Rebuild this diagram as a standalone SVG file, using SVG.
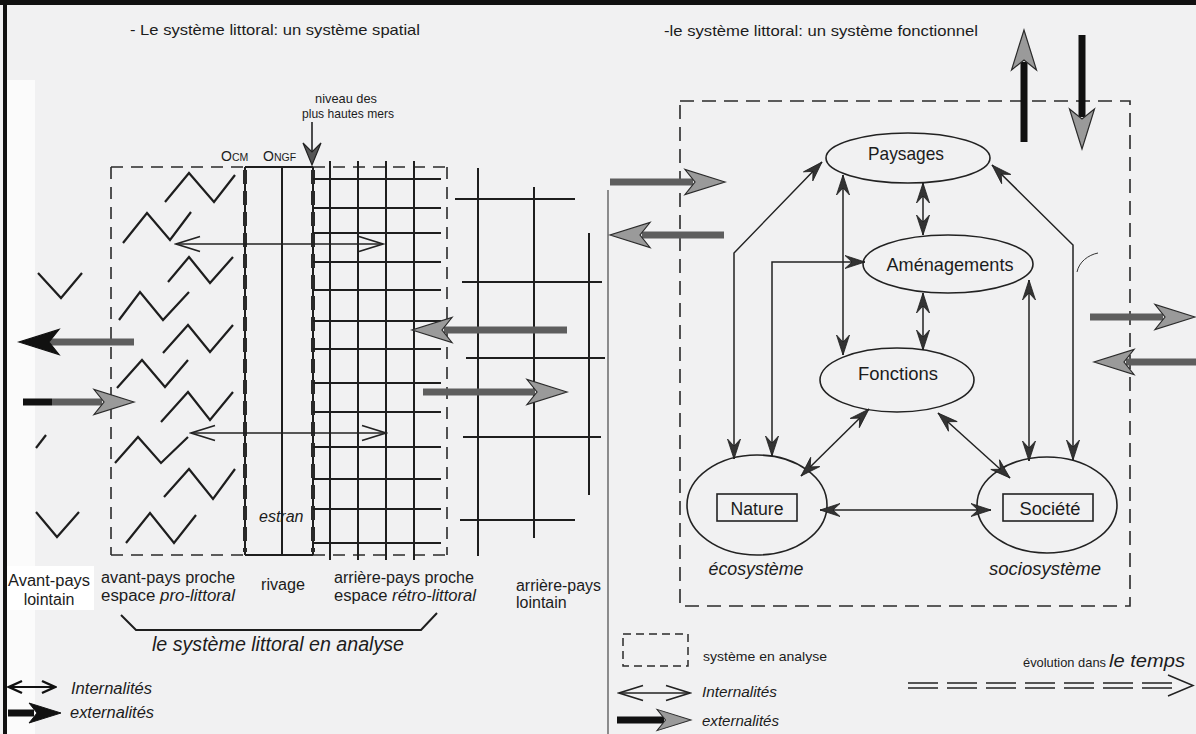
<svg xmlns="http://www.w3.org/2000/svg" width="1196" height="734" viewBox="0 0 1196 734">
<defs>
<style>
.t{font-family:"Liberation Sans",Arial,Helvetica,sans-serif;fill:#1c1c1c}
.it{font-style:italic}
.ln{stroke:#1e1e1e;stroke-width:2;fill:none}
.thin{stroke:#222;stroke-width:1.4;fill:none}
.dash{stroke:#2a2a2a;stroke-width:1.6;fill:none;stroke-dasharray:12 8}
.thickdash{stroke:#2a2a2a;stroke-width:4;fill:none;stroke-dasharray:14 7}
.zz{stroke:#1e1e1e;stroke-width:2.2;fill:none}
.ell{stroke:#222;stroke-width:1.6;fill:none}
.shaft{stroke:#5e5e5e;stroke-width:7}
.shaftk{stroke:#111;stroke-width:7}
.int{stroke:#222;stroke-width:1.4;fill:none;marker-start:url(#chev);marker-end:url(#chev)}
.intk{stroke:#111;stroke-width:2;fill:none;marker-start:url(#chevk);marker-end:url(#chevk)}
.rel{stroke:#222;stroke-width:1.5;fill:none;marker-start:url(#dart);marker-end:url(#dart)}
</style>
<marker id="chev" viewBox="-26 -10 28 20" refX="0" refY="0" markerWidth="28" markerHeight="20" markerUnits="userSpaceOnUse" orient="auto-start-reverse">
<path d="M-24,-7.5 L0,0 L-24,7.5" fill="none" stroke="#222" stroke-width="1.7"/>
</marker>
<marker id="chevk" viewBox="-16 -8 18 16" refX="0" refY="0" markerWidth="18" markerHeight="16" markerUnits="userSpaceOnUse" orient="auto-start-reverse">
<path d="M-13,-6 L0,0 L-13,6" fill="none" stroke="#111" stroke-width="2.4"/>
</marker>
<marker id="dart" viewBox="-22 -8 24 16" refX="0" refY="0" markerWidth="24" markerHeight="16" markerUnits="userSpaceOnUse" orient="auto-start-reverse">
<path d="M0,0 L-20,-6.5 L-13,0 L-20,6.5 Z" fill="#333" stroke="#1e1e1e" stroke-width="0.8"/>
</marker>
<path id="xh" d="M0,0 L-40,-12.5 L-30,0 L-40,12.5 Z" fill="#9a9a9a" stroke="#2a2a2a" stroke-width="1.2"/>
<path id="xhk" d="M0,0 L-40,-12.5 L-30,0 L-40,12.5 Z" fill="#111" stroke="#111" stroke-width="1.2"/>
</defs>

<!-- background -->
<rect x="0" y="0" width="1196" height="734" fill="#f1f1f2"/>
<rect x="6" y="80" width="29" height="654" fill="#fbfbfb"/>
<rect x="6" y="566" width="88" height="44" fill="#ffffff"/>
<rect x="0" y="0" width="1196" height="5" fill="#111"/>
<rect x="3" y="0" width="4" height="734" fill="#111"/>
<line x1="608" y1="190" x2="608" y2="734" stroke="#555" stroke-width="1.3"/>

<!-- titles -->
<text class="t" x="130" y="35" font-size="15" textLength="290" lengthAdjust="spacingAndGlyphs">- Le système littoral: un système spatial</text>
<text class="t" x="664" y="36" font-size="15" textLength="314" lengthAdjust="spacingAndGlyphs">-le système littoral: un système fonctionnel</text>

<!-- LEFT PANEL: spatial system -->
<g id="spatial-system">
  <!-- analysis frame -->
  <path class="dash" d="M111,167 H245 M313,167 H447 M111,167 V555 M447,167 V555 M111,555 H245 M313,555 H447"/>
  <path class="ln" d="M245,167 H313 M245,555 H313"/>
  <!-- OCM / ONGF lines -->
  <path class="ln" d="M245,167 V555 M313,167 V555" stroke-width="1.4"/>
  <path class="thickdash" d="M245,170 V552 M313,170 V552"/>
  <line class="ln" x1="282" y1="167" x2="282" y2="555"/>
  <!-- grid of rétro-littoral -->
  <path class="ln" d="M330,161 V560 M358,161 V560 M386,161 V560 M414,161 V560"/>
  <path class="ln" d="M313,179 H441 M313,208 H441 M313,233 H441 M313,262 H441 M313,290 H441 M313,321 H441 M313,349 H441 M313,383 H441 M313,412 H441 M313,447 H441 M313,479 H441 M313,509 H441 M313,543 H441"/>
  <!-- arrière-pays lointain -->
  <path class="ln" d="M478,168 V556 M534,187 V538 M589,233 V495"/>
  <path class="ln" d="M455,199 H575 M462,282 H602 M466,358 H605 M463,437 H601 M460,520 H575"/>
  <!-- sea zigzags -->
  <polyline class="zz" points="165,202 189,173 214,202 235,175"/>
  <polyline class="zz" points="123,243 147,213 170,240 191,212"/>
  <polyline class="zz" points="168,282 189,257 210,283 233,257"/>
  <polyline class="zz" points="119,320 140,292 163,320 189,292"/>
  <polyline class="zz" points="163,353 188,325 210,352 233,325"/>
  <polyline class="zz" points="117,388 142,360 165,387 188,360"/>
  <polyline class="zz" points="161,422 188,392 210,420 233,392"/>
  <polyline class="zz" points="115,463 138,437 161,463 188,437"/>
  <polyline class="zz" points="164,497 189,469 213,499 235,469"/>
  <polyline class="zz" points="126,543 150,513 174,543 196,515"/>
  <polyline class="zz" points="38,273 61,298 82,273"/>
  <line class="zz" x1="36" y1="448" x2="46" y2="435"/>
  <polyline class="zz" points="36,512 57,537 79,512"/>
  <!-- labels -->
  <text class="t" x="346" y="103" font-size="13" text-anchor="middle" textLength="62" lengthAdjust="spacingAndGlyphs">niveau  des</text>
  <text class="t" x="348" y="118" font-size="13.5" text-anchor="middle" textLength="92" lengthAdjust="spacingAndGlyphs">plus hautes mers</text>
  <line x1="312" y1="122" x2="312" y2="160" stroke="#222" stroke-width="1.6"/>
  <path d="M303,143 L312,165 L321,143 L312,152 Z" fill="#555" stroke="#222" stroke-width="1.2"/>
  <text class="t" x="221" y="161" font-size="14">O<tspan font-size="10.5">CM</tspan></text>
  <text class="t" x="263" y="161" font-size="14">O<tspan font-size="10.5">NGF</tspan></text>
  <text class="t it" x="259" y="522" font-size="16">estran</text>
  <text class="t" x="8" y="586" font-size="16" textLength="82" lengthAdjust="spacingAndGlyphs">Avant-pays</text>
  <text class="t" x="49" y="605" font-size="16" text-anchor="middle">lointain</text>
  <text class="t" x="101" y="583" font-size="16" textLength="134" lengthAdjust="spacingAndGlyphs">avant-pays proche</text>
  <text class="t" x="101" y="601" font-size="16" textLength="134" lengthAdjust="spacingAndGlyphs">espace <tspan class="it">pro-littoral</tspan></text>
  <text class="t" x="261" y="590" font-size="16" textLength="44" lengthAdjust="spacingAndGlyphs">rivage</text>
  <text class="t" x="334" y="583" font-size="16" textLength="140" lengthAdjust="spacingAndGlyphs">arrière-pays proche</text>
  <text class="t" x="334" y="601" font-size="16" textLength="142" lengthAdjust="spacingAndGlyphs">espace <tspan class="it">rétro-littoral</tspan></text>
  <text class="t" x="516" y="591" font-size="16" textLength="85" lengthAdjust="spacingAndGlyphs">arrière-pays</text>
  <text class="t" x="516" y="608" font-size="16">lointain</text>
  <path class="ln" d="M121,615 L136,630 H421 L437,613"/>
  <text class="t it" x="152" y="651" font-size="19.5" textLength="252" lengthAdjust="spacingAndGlyphs">le système littoral en analyse</text>
</g>

<!-- RIGHT PANEL frame -->
<rect x="680" y="101" width="450" height="505" fill="none" stroke="#2a2a2a" stroke-width="1.6" stroke-dasharray="14 8"/>

<!-- nodes -->
<g id="paysages">
  <ellipse class="ell" cx="908" cy="158" rx="82" ry="25"/>
  <text class="t" x="906" y="160" font-size="18.5" text-anchor="middle" textLength="76" lengthAdjust="spacingAndGlyphs">Paysages</text>
</g>
<g id="amenagements">
  <ellipse class="ell" cx="948" cy="264" rx="85" ry="29"/>
  <text class="t" x="950" y="271" font-size="19" text-anchor="middle" textLength="127" lengthAdjust="spacingAndGlyphs">Aménagements</text>
</g>
<g id="fonctions">
  <ellipse class="ell" cx="897" cy="380" rx="77" ry="32"/>
  <text class="t" x="898" y="380" font-size="18.5" text-anchor="middle" textLength="80" lengthAdjust="spacingAndGlyphs">Fonctions</text>
</g>
<g id="nature">
  <ellipse class="ell" cx="757" cy="505" rx="70" ry="50"/>
  <rect x="717" y="494" width="80" height="27" fill="none" stroke="#222" stroke-width="1.6"/>
  <text class="t" x="757" y="515" font-size="18" text-anchor="middle" textLength="53" lengthAdjust="spacingAndGlyphs">Nature</text>
  <text class="t it" x="756" y="575" font-size="18" text-anchor="middle" textLength="95" lengthAdjust="spacingAndGlyphs">écosystème</text>
</g>
<g id="societe">
  <ellipse class="ell" cx="1047" cy="505" rx="70" ry="48"/>
  <rect x="1003" y="494" width="90" height="27" fill="none" stroke="#222" stroke-width="1.6"/>
  <text class="t" x="1050" y="515" font-size="18" text-anchor="middle" textLength="61" lengthAdjust="spacingAndGlyphs">Société</text>
  <text class="t it" x="1045" y="575" font-size="18" text-anchor="middle" textLength="112" lengthAdjust="spacingAndGlyphs">sociosystème</text>
</g>

<!-- connectors -->
<g id="connectors">
  <!-- left panel internal flows -->
  <path class="int" d="M176,244 H383"/>
  <path class="int" d="M191,433 H386"/>
  <!-- left panel external flows -->
  <line class="shaft" x1="134" y1="342" x2="50" y2="342"/>
  <use href="#xhk" transform="translate(19,342) rotate(180)"/>
  <line class="shaftk" x1="23" y1="402" x2="52" y2="402"/>
  <line class="shaft" x1="52" y1="402" x2="102" y2="402"/>
  <use href="#xh" transform="translate(134,402)"/>
  <line class="shaft" x1="567" y1="330" x2="444" y2="330"/>
  <use href="#xh" transform="translate(412,330) rotate(180)"/>
  <line class="shaft" x1="423" y1="392" x2="535" y2="392"/>
  <use href="#xh" transform="translate(567,392)"/>
  <!-- right panel external flows -->
  <line class="shaftk" x1="1024" y1="142" x2="1024" y2="62" stroke-width="6"/>
  <use href="#xh" transform="translate(1024,30) rotate(-90)"/>
  <line class="shaftk" x1="1082" y1="35" x2="1082" y2="117" stroke-width="6"/>
  <use href="#xh" transform="translate(1082,149) rotate(90)"/>
  <line class="shaft" x1="610" y1="182" x2="693" y2="182"/>
  <use href="#xh" transform="translate(725,182)"/>
  <line class="shaft" x1="724" y1="235" x2="642" y2="235"/>
  <use href="#xh" transform="translate(610,235) rotate(180)"/>
  <line class="shaft" x1="1090" y1="317" x2="1163" y2="317"/>
  <use href="#xh" transform="translate(1195,317)"/>
  <line class="shaft" x1="1196" y1="362" x2="1126" y2="362"/>
  <use href="#xh" transform="translate(1094,362) rotate(180)"/>
  <!-- right panel relations -->
  <path class="rel" d="M822,162 L734,253 L734,459"/>
  <path class="rel" d="M865,262 H772 V456"/>
  <path class="rel" d="M843,175 V355"/>
  <path class="rel" d="M923,183 V235"/>
  <path class="rel" d="M923,293 V350"/>
  <path class="rel" d="M992,165 L1073,245 V460"/>
  <path class="rel" d="M1029,280 V461"/>
  <path class="rel" d="M869,409 L801,476"/>
  <path class="rel" d="M938,413 L1010,478"/>
  <path class="rel" d="M820,510 H991"/>
  <path d="M1098,253 C1088,255 1079,262 1077,272" fill="none" stroke="#333" stroke-width="1"/>
</g>

<!-- legends -->
<g id="legend-left">
  <path class="intk" d="M9,687 H55"/>
  <text class="t it" x="71" y="694" font-size="16" textLength="81" lengthAdjust="spacingAndGlyphs">Internalités</text>
  <line class="shaftk" x1="8" y1="713" x2="34" y2="713" stroke-width="9"/>
  <use href="#xhk" transform="translate(61,713) scale(0.8)"/>
  <text class="t it" x="70" y="718" font-size="16" textLength="84" lengthAdjust="spacingAndGlyphs">externalités</text>
</g>
<g id="legend-right">
  <rect x="623" y="634" width="65" height="32" fill="none" stroke="#2a2a2a" stroke-width="1.5" stroke-dasharray="8 5"/>
  <text class="t" x="703" y="661" font-size="13.5" textLength="124" lengthAdjust="spacingAndGlyphs">système en analyse</text>
  <path class="int" d="M619,693 H690"/>
  <text class="t it" x="702" y="697" font-size="15" textLength="75" lengthAdjust="spacingAndGlyphs">Internalités</text>
  <line class="shaftk" x1="617" y1="720" x2="664" y2="720" stroke-width="6"/>
  <use href="#xh" transform="translate(691,720) scale(0.85)"/>
  <text class="t it" x="702" y="726" font-size="15" textLength="77" lengthAdjust="spacingAndGlyphs">externalités</text>
  <text class="t" x="1023" y="667" font-size="13" textLength="83" lengthAdjust="spacingAndGlyphs">évolution dans</text>
  <text class="t it" x="1109" y="667" font-size="18" textLength="76" lengthAdjust="spacingAndGlyphs">le temps</text>
  <path d="M908,683 H1178 M908,688 H1178" fill="none" stroke="#222" stroke-width="1.4" stroke-dasharray="30 9"/>
  <path d="M1168,675 L1193,685.5 L1168,696" fill="none" stroke="#222" stroke-width="1.5"/>
</g>
</svg>
